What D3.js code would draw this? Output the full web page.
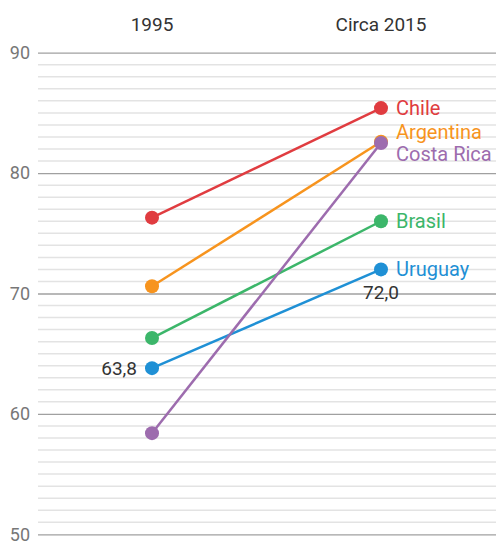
<!DOCTYPE html>
<html>
<head>
<meta charset="utf-8">
<script src="https://cdn.jsdelivr.net/npm/d3@7"></script>
<style>
  body { margin: 0; background: #fff; }
  svg { display: block; font-family: Roboto, sans-serif; }
</style>
</head>
<body>
<svg width="496" height="542"></svg>
<script>
const periods = ['1995', 'Circa 2015'];
const countries = ['Chile', 'Argentina', 'Costa Rica', 'Brasil', 'Uruguay'];
const start = [76.3, 70.6, 58.4, 66.3, 63.8];
const end = [85.4, 82.6, 82.5, 76.0, 72.0];
const colors = ['#e03c40', '#f7941e', '#9d6cae', '#3cb66a', '#1f90d5'];
const majorTicks = [50, 60, 70, 80, 90];
// label nudges so Argentina and Costa Rica don't overlap
const labelShift = [0, -10, 11, 0, 0];

const svg = d3.select('svg');
const width = +svg.attr('width');

const y = d3.scaleLinear()
  .domain([50, 90])
  .range([534.3, 52.7]);

const x = d3.scalePoint()
  .domain(periods)
  .range([152, 381]);

// minor grid, one per unit
const minor = d3.range(50, 91).filter(v => v % 10 !== 0);
svg.append('g')
  .selectAll('line')
  .data(minor)
  .join('line')
    .attr('x1', 38)
    .attr('x2', width)
    .attr('y1', d => y(d))
    .attr('y2', d => y(d))
    .attr('stroke', '#e3e3e3')
    .attr('stroke-width', 1.5);

// major grid + labels
const yAxis = svg.append('g')
  .attr('transform', 'translate(38,0)')
  .call(d3.axisLeft(y).tickValues(majorTicks).tickSize(-(width - 38)).tickPadding(8));
yAxis.select('.domain').remove();
yAxis.selectAll('.tick line')
  .attr('stroke', '#a0a0a0')
  .attr('stroke-width', 1.3);
yAxis.selectAll('.tick text')
  .attr('fill', '#777')
  .style('font-size', '18px')
  .style('font-family', 'Roboto, sans-serif');

// column headers
svg.append('g')
  .selectAll('text')
  .data(periods)
  .join('text')
    .attr('x', d => x(d))
    .attr('y', 31)
    .attr('text-anchor', 'middle')
    .attr('fill', '#333')
    .style('font-size', '19px')
    .text(d => d);

const rows = countries.map((c, i) => ({
  name: c, color: colors[i], shift: labelShift[i],
  values: [start[i], end[i]],
}));

const line = d3.line()
  .x((d, i) => x(periods[i]))
  .y(d => y(d));

// draw back to front so Costa Rica sits over Argentina
const order = [0, 1, 3, 4, 2];
const g = svg.append('g');
order.forEach((k) => {
  const r = rows[k];
  g.append('path')
    .datum(r.values)
    .attr('d', line)
    .attr('fill', 'none')
    .attr('stroke', r.color)
    .attr('stroke-width', 2.5);
  g.selectAll(null)
    .data(r.values)
    .join('circle')
      .attr('cx', (d, i) => x(periods[i]))
      .attr('cy', d => y(d))
      .attr('r', 7)
      .attr('fill', r.color);
});

// country labels at the right
svg.append('g')
  .selectAll('text')
  .data(rows)
  .join('text')
    .attr('x', x(periods[1]) + 15)
    .attr('y', d => y(d.values[1]) + d.shift)
    .attr('dy', '0.35em')
    .attr('fill', d => d.color)
    .style('font-size', '20px')
    .text(d => d.name);

// Uruguay value labels
const fmt = v => d3.format('.1f')(v).replace('.', ',');
svg.append('text')
  .attr('x', x(periods[0]) - 15)
  .attr('y', y(start[4]))
  .attr('dy', '0.35em')
  .attr('text-anchor', 'end')
  .attr('fill', '#333')
  .style('font-size', '19px')
  .text(fmt(start[4]));
svg.append('text')
  .attr('x', x(periods[1]))
  .attr('y', y(end[4]) + 23)
  .attr('dy', '0.35em')
  .attr('text-anchor', 'middle')
  .attr('fill', '#333')
  .style('font-size', '19px')
  .text(fmt(end[4]));
</script>
</body>
</html>
